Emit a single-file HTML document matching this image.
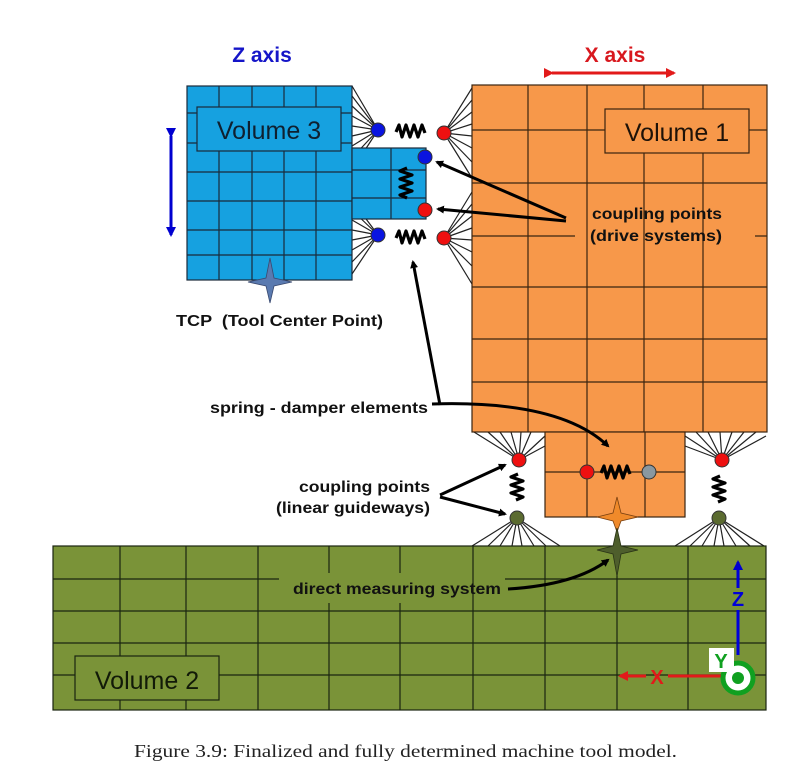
<!DOCTYPE html>
<html><head><meta charset="utf-8"><style>
html,body{margin:0;padding:0;background:#fff;}
svg{display:block;}
text{font-family:"Liberation Sans",Arial,sans-serif;}
</style></head><body>
<svg width="800" height="767" viewBox="0 0 800 767" xmlns="http://www.w3.org/2000/svg">
<defs>
<marker id="ah" markerWidth="8" markerHeight="8" refX="6" refY="4" orient="auto" markerUnits="userSpaceOnUse"><path d="M0,0 L8,4 L0,8 Z" fill="#000"/></marker>
<marker id="ahr" markerWidth="10" markerHeight="10" refX="8" refY="5" orient="auto" markerUnits="userSpaceOnUse"><path d="M0,0 L10,5 L0,10 Z" fill="#e21a1a"/></marker>
<marker id="ahb" markerWidth="10" markerHeight="10" refX="8" refY="5" orient="auto" markerUnits="userSpaceOnUse"><path d="M0,0 L10,5 L0,10 Z" fill="#0000d0"/></marker>
</defs>

<text x="262" y="62" font-size="21" font-weight="bold" fill="#1515c8" text-anchor="middle">Z axis</text>
<text x="615" y="62" font-size="21" font-weight="bold" fill="#d8181e" text-anchor="middle">X axis</text>
<line x1="552" y1="73" x2="674" y2="73" stroke="#e21a1a" stroke-width="3" marker-start="url(#ahr)" marker-end="url(#ahr)"/>
<line x1="171" y1="136" x2="171" y2="235" stroke="#0000d0" stroke-width="3" marker-start="url(#ahb)" marker-end="url(#ahb)"/>

<g stroke="#222" stroke-width="1.2">
<path d="M378,130 L352,86 M378,130 L352,96 M378,130 L352,106 M378,130 L352,116 M378,130 L352,126 M378,130 L352,136 M378,130 L352,146 M378,130 L352,158 M378,130 L352,170"/>
<path d="M378,235 L352,200 M378,235 L352,210 M378,235 L352,220 M378,235 L352,230 M378,235 L352,240 M378,235 L352,250 M378,235 L352,262 M378,235 L352,274"/>
<path d="M444,133 L472,88 M444,133 L472,100 M444,133 L472,112 M444,133 L472,124 M444,133 L472,136 M444,133 L472,148 M444,133 L472,162 M444,133 L472,178"/>
<path d="M444,238 L472,192 M444,238 L472,204 M444,238 L472,216 M444,238 L472,228 M444,238 L472,240 M444,238 L472,252 M444,238 L472,266 M444,238 L472,284"/>
<path d="M519,460 L474,432 M519,460 L488,432 M519,460 L500,432 M519,460 L511,432 M519,460 L521,432 M519,460 L531,432 M519,460 L545,436 M519,460 L545,446"/>
<path d="M722,460 L685,436 M722,460 L685,446 M722,460 L696,432 M722,460 L708,432 M722,460 L720,432 M722,460 L732,432 M722,460 L744,432 M722,460 L756,432 M722,460 L766,436"/>
<path d="M517,518 L472,546 M517,518 L488,546 M517,518 L500,546 M517,518 L512,546 M517,518 L522,546 M517,518 L534,546 M517,518 L546,546 M517,518 L560,546"/>
<path d="M719,518 L675,546 M719,518 L690,546 M719,518 L702,546 M719,518 L714,546 M719,518 L724,546 M719,518 L736,546 M719,518 L750,546 M719,518 L764,546"/>
</g>

<g stroke="#1b2a3a" stroke-width="1.2" fill="none">
<rect x="187" y="86" width="165" height="194" fill="#16a1e0"/>
<path d="M219,86V280 M252,86V280 M284,86V280 M316,86V280 M187,113H352 M187,143H352 M187,172H352 M187,201H352 M187,230H352 M187,255H352"/>
<rect x="352" y="148" width="74" height="71" fill="#16a1e0"/>
<path d="M391,148V219 M352,170H426 M352,198H426"/>
<rect x="197" y="107" width="144" height="44" fill="#16a1e0"/>
</g>
<text x="269" y="139" font-size="25" fill="#0f2030" text-anchor="middle">Volume 3</text>

<g stroke="#3a2410" stroke-width="1.2" fill="none">
<rect x="472" y="85" width="295" height="347" fill="#f7984a"/>
<path d="M528,85V432 M587,85V432 M644,85V432 M703,85V432 M472,130H767 M472,183H767 M472,236H575 M755,236H767 M472,287H767 M472,339H767 M472,382H767"/>
<rect x="545" y="432" width="140" height="85" fill="#f7984a"/>
<path d="M587,432V517 M645,432V517 M545,472H685"/>
<rect x="605" y="109" width="144" height="44" fill="#f7984a"/>
</g>
<text x="677" y="141" font-size="25" fill="#1e1208" text-anchor="middle">Volume 1</text>

<g stroke="#1a2410" stroke-width="1.2" fill="none">
<rect x="53" y="546" width="713" height="164" fill="#7a9338"/>
<path d="M120,546V710 M186,546V710 M258,546V710 M329,546V573 M329,603V710 M400,546V573 M400,603V710 M473,546V710 M545,546V710 M617,546V710 M688,546V710 M53,579H279 M505,579H766 M53,611H766 M53,643H766 M53,675H766"/>
<rect x="75" y="656" width="144" height="44" fill="#7a9338"/>
</g>
<text x="147" y="689" font-size="25" fill="#121a08" text-anchor="middle">Volume 2</text>

<g stroke="#000" stroke-width="3.2" fill="none" stroke-linejoin="round">
<path d="M396,132 l3,-7 l3,12 l4,-12 l4,12 l4,-12 l4,12 l4,-12 l3,8"/>
<path d="M396,238 l3,-7 l3,12 l4,-12 l4,12 l4,-12 l4,12 l4,-12 l3,8"/>
<path d="M407,168 l-7,3 l12,4 l-12,4 l12,4 l-12,4 l12,4 l-12,4 l7,3"/>
<path d="M601,473 l3,-7 l3,12 l4,-12 l4,12 l4,-12 l4,12 l4,-12 l3,8"/>
<path d="M518,474 l-7,3 l12,4 l-12,4 l12,4 l-12,4 l12,4 l-7,3"/>
<path d="M720,476 l-7,3 l12,4 l-12,4 l12,4 l-12,4 l12,4 l-7,3"/>
</g>

<g stroke="#333" stroke-width="1">
<circle cx="378" cy="130" r="7" fill="#0a14e0"/>
<circle cx="378" cy="235" r="7" fill="#0a14e0"/>
<circle cx="425" cy="157" r="7" fill="#0a14e0"/>
<circle cx="444" cy="133" r="7" fill="#ee1010"/>
<circle cx="444" cy="238" r="7" fill="#ee1010"/>
<circle cx="425" cy="210" r="7" fill="#ee1010"/>
<circle cx="519" cy="460" r="7" fill="#ee1010"/>
<circle cx="722" cy="460" r="7" fill="#ee1010"/>
<circle cx="587" cy="472" r="7" fill="#ee1010"/>
<circle cx="649" cy="472" r="7" fill="#8a98a0"/>
<circle cx="517" cy="518" r="7" fill="#5b6b30"/>
<circle cx="719" cy="518" r="7" fill="#5b6b30"/>
</g>

<path d="M270,258 L274,278 L292,282 L274,286 L270,303 L266,286 L248,282 L266,278 Z" fill="#5a7ab0" stroke="#3a4a70" stroke-width="0.8"/>
<path d="M617,497 L621,513 L638,517 L621,521 L617,532 L613,521 L597,517 L613,513 Z" fill="#f08a2a" stroke="#7a4010" stroke-width="0.8"/>
<path d="M617,528 L621,546 L638,550 L621,554 L617,576 L613,554 L597,550 L613,546 Z" fill="#4e5e2c" stroke="#2a3416" stroke-width="0.8"/>

<g stroke="#000" stroke-width="3" fill="none">
<path d="M566,218 L437,162" marker-end="url(#ah)"/>
<path d="M566,221 L438,209" marker-end="url(#ah)"/>
<path d="M440,405 L413,262" marker-end="url(#ah)"/>
<path d="M432,404 Q560,400 608,446" marker-end="url(#ah)"/>
<path d="M440,495 L505,465" marker-end="url(#ah)"/>
<path d="M440,497 L505,514" marker-end="url(#ah)"/>
<path d="M508,589 Q575,585 608,560" marker-end="url(#ah)"/>
</g>

<g font-size="16" font-weight="bold" fill="#111">
<text x="592" y="219" textLength="130" lengthAdjust="spacingAndGlyphs">coupling points</text>
<text x="590" y="241" textLength="132" lengthAdjust="spacingAndGlyphs">(drive systems)</text>
<text x="176" y="326" textLength="207" lengthAdjust="spacingAndGlyphs" xml:space="preserve">TCP  (Tool Center Point)</text>
<text x="210" y="413" textLength="218" lengthAdjust="spacingAndGlyphs">spring - damper elements</text>
<text x="299" y="492" textLength="131" lengthAdjust="spacingAndGlyphs">coupling points</text>
<text x="276" y="513" textLength="154" lengthAdjust="spacingAndGlyphs">(linear guideways)</text>
<text x="293" y="594" textLength="208" lengthAdjust="spacingAndGlyphs">direct measuring system</text>
</g>

<line x1="738" y1="655" x2="738" y2="610" stroke="#0000d8" stroke-width="3"/>
<line x1="738" y1="588" x2="738" y2="562" stroke="#0000d8" stroke-width="3" marker-end="url(#ahb)"/>
<text x="738" y="606" font-size="20" font-weight="bold" fill="#0000d8" text-anchor="middle">Z</text>
<line x1="722" y1="676" x2="668" y2="676" stroke="#e21a1a" stroke-width="3"/>
<line x1="646" y1="676" x2="620" y2="676" stroke="#e21a1a" stroke-width="3" marker-end="url(#ahr)"/>
<text x="657" y="684" font-size="20" font-weight="bold" fill="#e21a1a" text-anchor="middle">X</text>
<circle cx="738" cy="678" r="15" fill="#fff" stroke="#10a020" stroke-width="5"/>
<circle cx="738" cy="678" r="6" fill="#10a020"/>
<rect x="709" y="648" width="25" height="24" fill="#fff"/>
<text x="721" y="668" font-size="20" font-weight="bold" fill="#10a020" text-anchor="middle">Y</text>

<text x="134" y="757" font-size="18" fill="#222" textLength="543" lengthAdjust="spacingAndGlyphs" style="font-family:'Liberation Serif',serif">Figure 3.9: Finalized and fully determined machine tool model.</text>
</svg>
</body></html>
